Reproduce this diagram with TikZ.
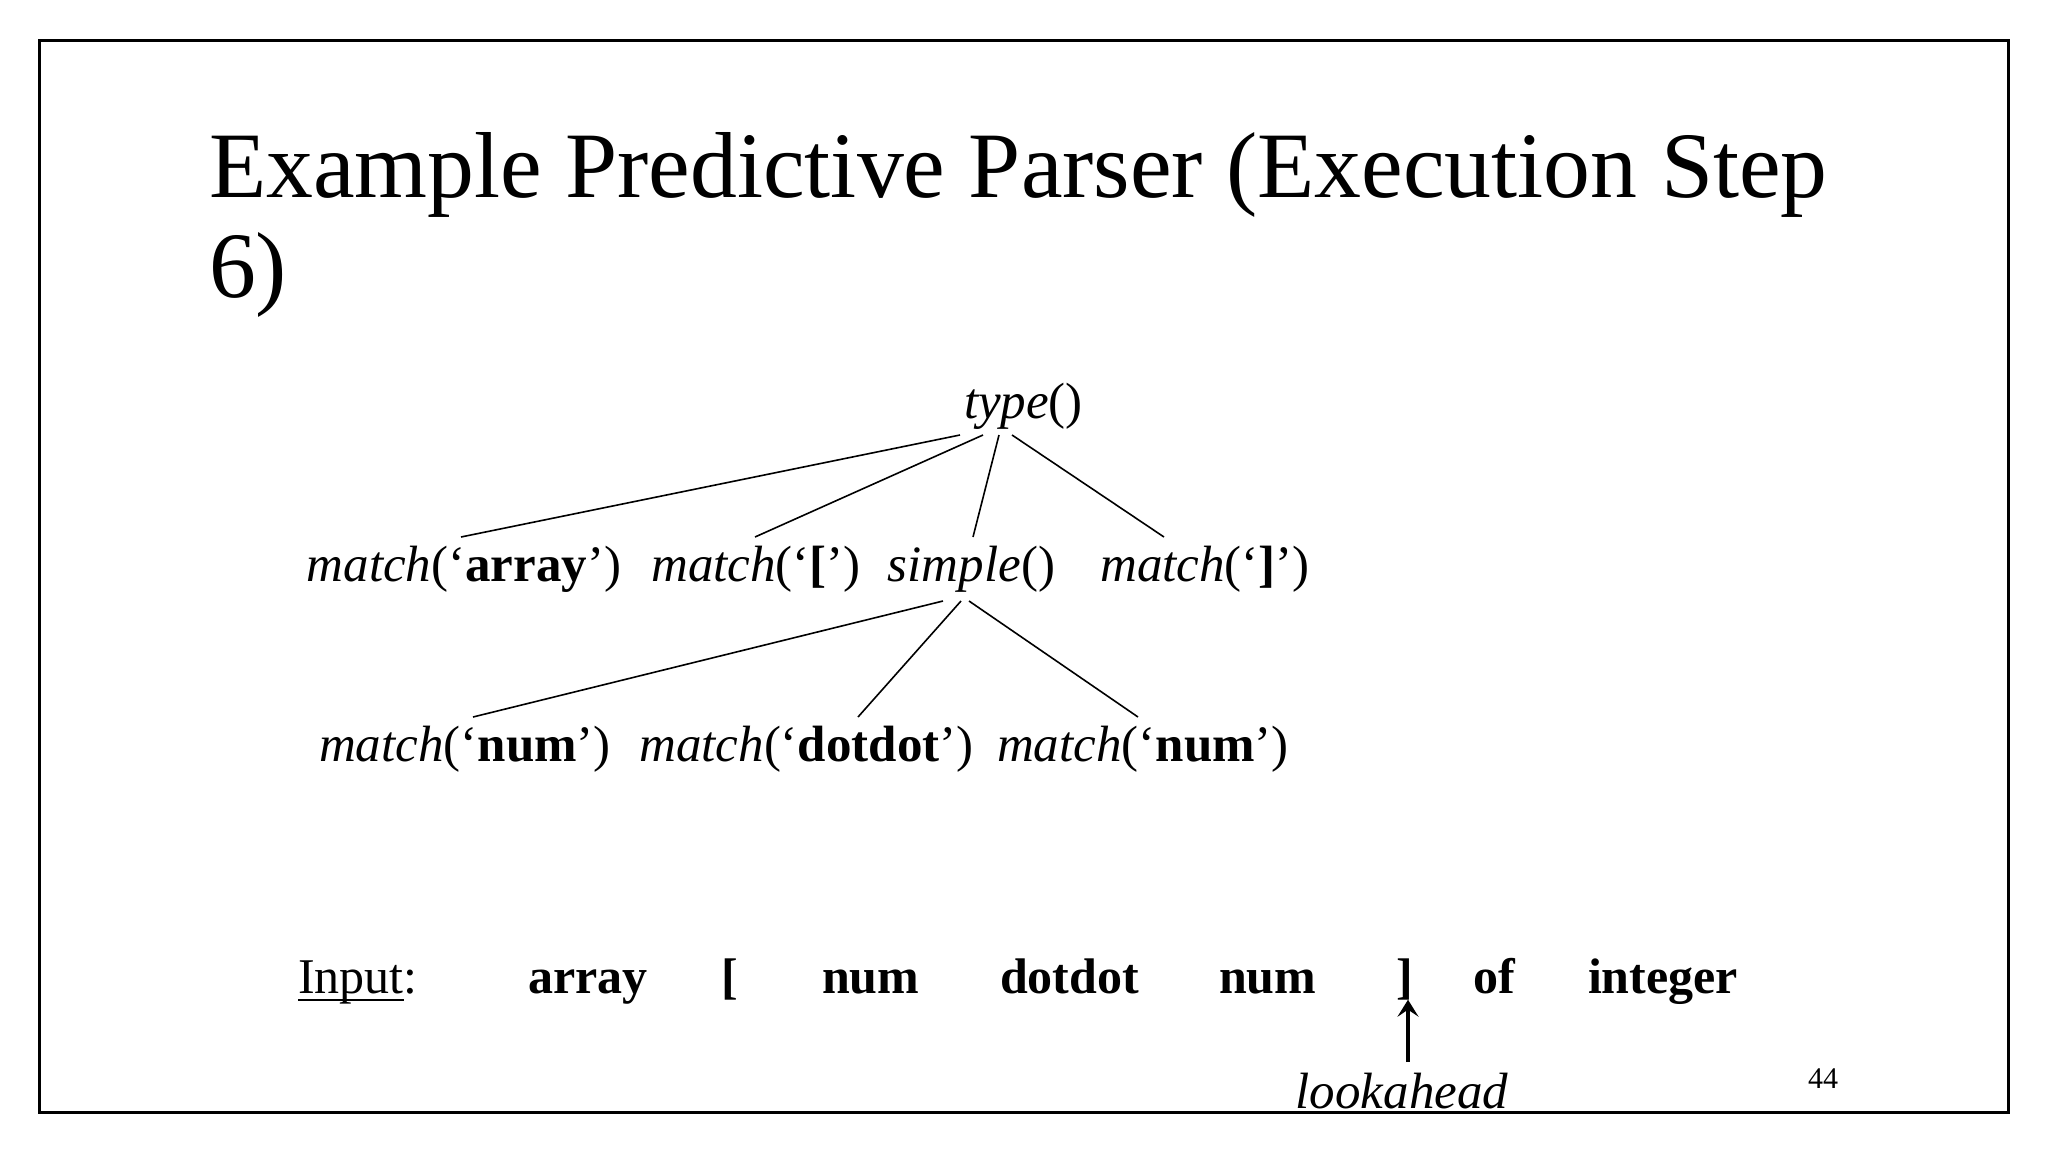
\documentclass[tikz,border=0pt]{standalone}
\usepackage{fontspec}
\setmainfont{Liberation Serif}
\usetikzlibrary{arrows.meta}
\newcommand\myul[1]{{\setbox0\hbox{#1}\rlap{\rule[-8.2pt]{\wd0}{2.4pt}}\box0}}
\begin{document}
\begin{tikzpicture}[x=1pt,y=-1pt,
  every node/.style={inner sep=0pt,outer sep=0pt},
  titlef/.style={font=\fontsize{93.7}{94}\selectfont,anchor=base west},
  treef/.style={font=\fontsize{51}{60}\selectfont,anchor=base},
  inpf/.style={font=\fontsize{50}{60}\selectfont\bfseries,anchor=base west},
  edge/.style={line width=1.6pt},
  ar/.style={line width=4pt,-{Stealth[length=17pt,width=21pt,inset=7pt]}}]
\fill[white] (0,0) rectangle (2048,1152);
\draw[line width=3pt] (39,40) rectangle (2008,1112);
% title
\node[titlef] (title1) at (209,197) {Example Predictive Parser (Execution Step};
\node[titlef] (title2) at (209,297) {6)};
% tree
\node[treef] (type) at (1023.5,418) {\textit{type}()};
\node[treef] (arr) at (464,581) {\textit{match}(‘\textbf{array}’)};
\node[treef] (lb) at (756,581) {\textit{match}(‘\textbf{[}’)};
\node[treef] (simple) at (971.5,581) {\textit{simple}()};
\node[treef] (rb) at (1205,581) {\textit{match}(‘\textbf{]}’)};
\node[treef] (num1) at (465,761) {\textit{match}(‘\textbf{num}’)};
\node[treef] (dd) at (806.5,761) {\textit{match}(‘\textbf{dotdot}’)};
\node[treef] (num2) at (1143,761) {\textit{match}(‘\textbf{num}’)};
\draw[edge] ([shift={(-63.5,17)}]type.base) -- ([shift={(-3,-44)}]arr.base);
\draw[edge] ([shift={(-40.5,17)}]type.base) -- ([shift={(-1,-44)}]lb.base);
\draw[edge] ([shift={(-24.5,17)}]type.base) -- ([shift={(1.5,-44)}]simple.base);
\draw[edge] ([shift={(-11.5,17)}]type.base) -- ([shift={(-41,-44)}]rb.base);
\draw[edge] ([shift={(-28.5,20)}]simple.base) -- ([shift={(8,-44)}]num1.base);
\draw[edge] ([shift={(-10.5,20)}]simple.base) -- ([shift={(51.5,-44)}]dd.base);
\draw[edge] ([shift={(-2.5,20)}]simple.base) -- ([shift={(-5,-44)}]num2.base);
% input line
\node[font=\fontsize{50}{60}\selectfont,anchor=base west] (inp) at (298,993) {\myul{Input}:};
\node[inpf] (w1) at (528,993) {array};
\node[inpf] (w2) at (721,993) {[};
\node[inpf] (w3) at (822,993) {num};
\node[inpf] (w4) at (1000,993) {dotdot};
\node[inpf] (w5) at (1219,993) {num};
\node[inpf] (bk) at (1396,993) {]};
\node[inpf] (w7) at (1473,993) {of};
\node[inpf] (w8) at (1588,993) {integer};
\node[font=\fontsize{51}{60}\selectfont\itshape,anchor=base] (look) at (1402,1108) {lookahead};
\coordinate (lk) at (1408,1062);
\draw[ar] (lk) -- (lk |- bk.south);
\node[font=\fontsize{30}{36}\selectfont,anchor=base west] (pg) at (1808,1088) {44};
\end{tikzpicture}
\end{document}
